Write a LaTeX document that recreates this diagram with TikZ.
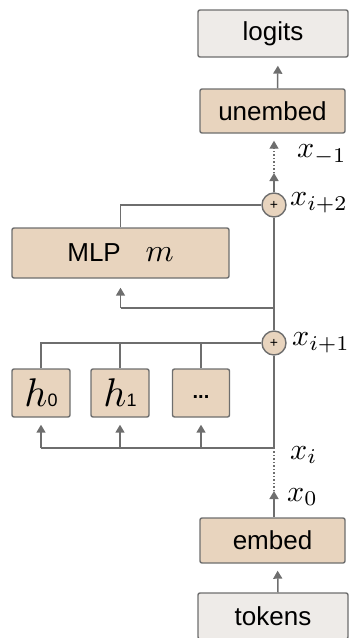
\documentclass[tikz,border=0pt]{standalone}
\usepackage{fontspec}
\setmainfont{Liberation Sans}
\usetikzlibrary{arrows.meta}
\definecolor{tan}{HTML}{E8D4BE}
\definecolor{lgray}{HTML}{EEEBE8}
\definecolor{edge}{HTML}{6E6E6E}
\newcommand{\bigmath}[2]{\scalebox{#1}{\fontsize{10}{12}\selectfont$#2$}}
\begin{document}
\begin{tikzpicture}[x=1pt,y=-1pt,
  boxbase/.style={draw=edge, line width=1.4pt, rounded corners=2pt, inner sep=0pt, font=\fontsize{26}{30}\selectfont},
  tanbox/.style={boxbase, fill=tan},
  graybox/.style={boxbase, fill=lgray},
  plusnode/.style={circle, draw=edge, line width=1.4pt, fill=tan, minimum size=24pt, inner sep=0pt, font=\fontsize{14}{14}\selectfont},
  conn/.style={draw=edge, line width=1.5pt},
  arr/.style={conn, -{Triangle[width=9pt,length=8pt]}},
  toarr/.style={arr, shorten >=7pt},
  dotconn/.style={draw=edge, line width=1.2pt, dash pattern=on 1.5pt off 2pt},
  mlab/.style={anchor=west, inner sep=0pt}
]
\useasboundingbox (0,0) rectangle (354,638);

\node[graybox, minimum width=150pt, minimum height=47pt] (logits) at (273,33.5) {logits};
\node[tanbox, minimum width=145pt, minimum height=44pt] (unembed) at (272.5,111) {unembed};
\node[plusnode] (plus2) at (274,205) {+};
\node[tanbox, minimum width=217pt, minimum height=50pt] (mlp) at (120.5,253) {MLP\hspace{0.95em}\bigmath{3.2}{m}};
\node[plusnode] (plus1) at (274,343) {+};
\node[tanbox, minimum width=58pt, minimum height=48pt] (h0) at (41,393) {\bigmath{4}{h}{\fontsize{18}{20}\selectfont 0}};
\node[tanbox, minimum width=58pt, minimum height=48pt] (h1) at (120,393) {\bigmath{4}{h}{\fontsize{18}{20}\selectfont 1}};
\node[tanbox, minimum width=57pt, minimum height=48pt] (hd) at (201,393) {\raisebox{-11pt}{\fontsize{20}{24}\selectfont\bfseries ...}};
\node[tanbox, minimum width=145pt, minimum height=45pt] (embed) at (272.5,540.5) {embed};
\node[graybox, minimum width=150pt, minimum height=46pt] (tokens) at (273,616) {tokens};

% coordinates on the trunk
\coordinate (xzero) at (274,491);
\coordinate (xi) at (274,448);
\coordinate (mlpsplit) at (274,308);
\coordinate (xtop) at (274,173);

% labels
\node[mlab] (lxm1) at (297,155) {\bigmath{3}{x_{-1}}};
\node[mlab] (lxi2) at (290,203) {\bigmath{3}{x_{i+2}}};
\node[mlab] (lxi1) at (292,343) {\bigmath{3}{x_{i+1}}};
\node[mlab] (lxi) at (290,455) {\bigmath{3}{x_i}};
\node[mlab] (lx0) at (287,497) {\bigmath{3}{x_0}};

% bottom
\draw[toarr] ([xshift=5pt]tokens.north) -- ([xshift=5pt]embed.south);
\draw[arr] (embed.north -| xzero) -- (xzero);
\draw[dotconn] (xzero) -- (xi);
\draw[conn] (xi) -- (plus1.south);

% attention heads
\draw[conn] (xi) -- (h0.south |- xi);
\draw[toarr] (h0.south |- xi) -- (h0.south);
\draw[toarr] (h1.south |- xi) -- (h1.south);
\draw[toarr] (hd.south |- xi) -- (hd.south);
\draw[conn] (h0.north) -- (h0.north |- plus1) -- (plus1.west);
\draw[conn] (h1.north) -- (h1.north |- plus1);
\draw[conn] (hd.north) -- (hd.north |- plus1);

% MLP
\draw[conn] (plus1.north) -- (plus2.south);
\draw[conn] (mlpsplit) -- (mlpsplit -| mlp.south);
\draw[arr, shorten >=9pt] (mlpsplit -| mlp.south) -- (mlp.south);
\draw[conn] (mlp.north) -- (mlp.north |- plus2) -- (plus2.west);

% top
\draw[arr] (plus2.north) -- (xtop);
\draw[dotconn, -{Triangle[width=9pt,length=8pt]}, shorten >=7pt] (xtop) -- (unembed.south -| xtop);
\draw[toarr, shorten >=8pt] ([xshift=5pt]unembed.north) -- ([xshift=5pt]logits.south);
\end{tikzpicture}
\end{document}
